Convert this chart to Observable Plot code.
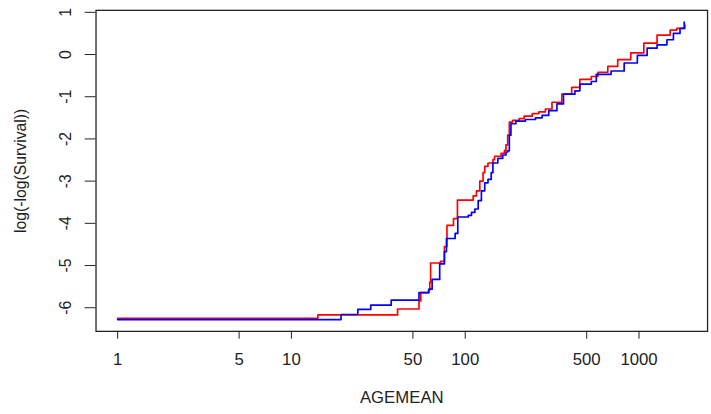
<!DOCTYPE html>
<html>
<head>
<meta charset="utf-8">
<script src="https://cdn.jsdelivr.net/npm/d3@7"></script>
<script src="https://cdn.jsdelivr.net/npm/@observablehq/plot@0.6"></script>
<style>
html, body { margin: 0; padding: 0; background: #fff; overflow: hidden; }
#chart svg { display: block; }
</style>
</head>
<body>
<div id="chart"></div>
<script>
// Red stratum: AGEMEAN (time) and log(-log(Survival)) at each step
const redTime = [1, 14.2, 40.8, 54.2, 55.5, 61.5, 62.5, 63.2, 72, 75.9, 78.5, 85.6, 90.2, 111.1, 116, 121.3, 126.6, 129.5, 135.2, 144.3, 147.5, 160.8, 168.1, 171.6, 175.5, 179.4, 187.3, 204.4, 218.2, 243.1, 265.3, 289.2, 315.7, 359.6, 409.8, 456.6, 531.8, 580.3, 661.3, 753.9, 896.5, 1066, 1270, 1510, 1648, 1837];
const redValue = [-6.25, -6.17, -6.03, -5.84, -5.64, -5.58, -5.40, -4.94, -4.90, -4.55, -4.05, -3.89, -3.45, -3.35, -3.23, -3.00, -2.80, -2.65, -2.57, -2.49, -2.41, -2.34, -2.27, -2.14, -1.91, -1.60, -1.56, -1.52, -1.46, -1.40, -1.36, -1.29, -1.13, -0.94, -0.78, -0.59, -0.52, -0.42, -0.28, -0.12, 0.04, 0.27, 0.46, 0.58, 0.62, 0.70];

// Blue stratum
const blueTime = [1, 19.3, 24.1, 28.6, 37.5, 54.2, 61.8, 64.5, 71.3, 75.9, 78, 87.5, 90.6, 104.1, 108.7, 113.6, 118.7, 123.9, 129.5, 135.2, 141.1, 144.3, 154, 164.4, 171.6, 175.5, 179.4, 183.2, 195.6, 221.9, 253.8, 277, 302.4, 337, 367.6, 427.8, 456.6, 531.8, 567.7, 690.4, 821.2, 978, 1114, 1270, 1447, 1577, 1721, 1820];
const blueValue = [-6.28, -6.16, -6.04, -5.94, -5.82, -5.64, -5.56, -5.33, -4.96, -4.67, -4.36, -4.24, -3.85, -3.81, -3.74, -3.66, -3.46, -3.23, -3.04, -2.96, -2.80, -2.57, -2.46, -2.38, -2.31, -2.28, -1.91, -1.64, -1.58, -1.54, -1.50, -1.44, -1.33, -1.17, -0.94, -0.86, -0.70, -0.64, -0.47, -0.39, -0.20, -0.02, 0.15, 0.23, 0.35, 0.50, 0.62, 0.77];

const xTicks = [1, 5, 10, 50, 100, 500, 1000];
const yTicks = [-6, -5, -4, -3, -2, -1, 0, 1];
const xTitle = "AGEMEAN";
const yTitle = "log(-log(Survival))";

const red = redTime.map((t, i) => ({t, v: redValue[i]}));
const blue = blueTime.map((t, i) => ({t, v: blueValue[i]}));

const textColor = "#222";
const font = "'Liberation Sans', Arial, sans-serif";

const chart = Plot.plot({
  width: 722,
  height: 414,
  marginTop: 10,
  marginBottom: 78,
  marginLeft: 97,
  marginRight: 4,
  style: {fontFamily: font, background: "#fff", color: textColor, overflow: "visible"},
  x: {type: "log", domain: [0.751, 2479]},
  y: {domain: [-6.56, 1.047]},
  marks: [
    Plot.line(red, {x: "t", y: "v", curve: "step-after", stroke: "#ff0000", strokeWidth: 1.7}),
    Plot.line(blue, {x: "t", y: "v", curve: "step-after", stroke: "#0000ff", strokeWidth: 1.7}),
    Plot.frame({stroke: "#222", strokeWidth: 1.3}),
    Plot.axisX(xTicks, {tickSize: 8, tickFormat: () => "", label: null, stroke: "#222"}),
    Plot.text(xTicks, {x: d => d, text: d => String(d), frameAnchor: "bottom", dy: 29, textAnchor: "middle", lineAnchor: "middle", fontSize: 17, fill: textColor}),
    Plot.axisY(yTicks, {tickSize: 11, tickFormat: () => "", label: null, stroke: "#222"}),
    Plot.text(yTicks, {y: d => d, text: d => String(d), frameAnchor: "left", dx: -30.5, rotate: -90, textAnchor: "middle", lineAnchor: "middle", fontSize: 16, fill: textColor}),
    Plot.text([xTitle], {text: d => d, frameAnchor: "bottom", dy: 67.5, textAnchor: "middle", lineAnchor: "middle", fontSize: 17, fill: textColor}),
    Plot.text([yTitle], {text: d => d, frameAnchor: "left", dx: -76.5, rotate: -90, textAnchor: "middle", lineAnchor: "middle", fontSize: 16, fill: textColor})
  ]
});
document.getElementById("chart").appendChild(chart);
</script>
</body>
</html>
